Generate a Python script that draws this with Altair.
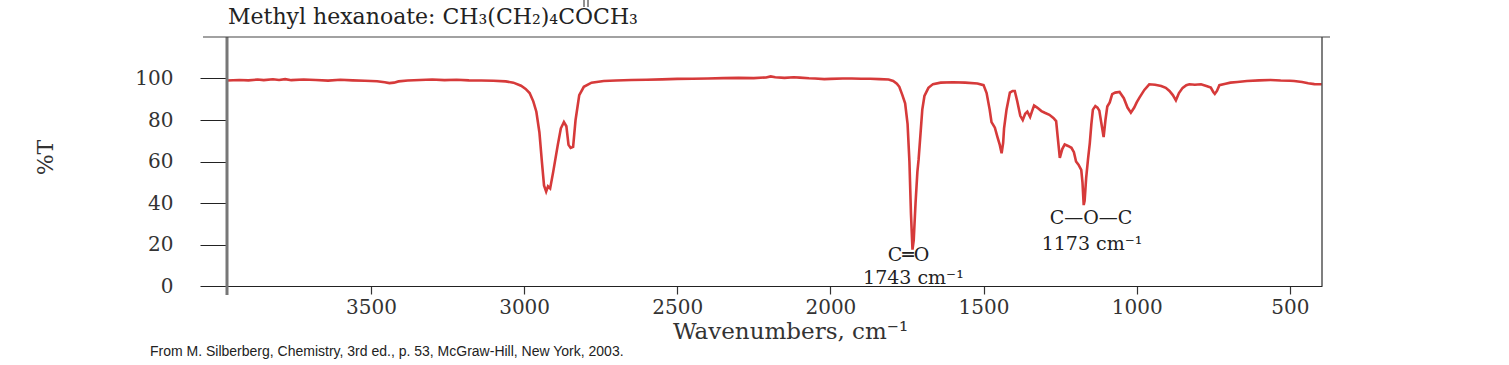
import altair as alt
import pandas as pd

# ---- spectrum (wavenumber cm-1, %T) ----
wavenumber = [3970, 3930, 3900, 3870, 3850, 3820, 3800, 3780, 3760, 3720, 3680, 3640,
              3600, 3560, 3520, 3480, 3455, 3440, 3425, 3410, 3380, 3340, 3300, 3260,
              3220, 3180, 3140, 3100, 3060, 3035, 3010, 2995, 2982, 2970, 2960, 2950,
              2942, 2935, 2928, 2922, 2915, 2905, 2890, 2880, 2870, 2862, 2855, 2848,
              2840, 2832, 2820, 2805, 2780, 2740, 2700, 2650, 2600, 2550, 2500, 2450,
              2400, 2350, 2300, 2250, 2210, 2195, 2180, 2150, 2120, 2100, 2070, 2050,
              2020, 2000, 1960, 1930, 1900, 1870, 1840, 1810, 1795, 1783, 1775, 1765,
              1756, 1748, 1742, 1737, 1732, 1728, 1722, 1716, 1712, 1705, 1700, 1693,
              1680, 1665, 1640, 1600, 1560, 1520, 1500, 1490, 1480, 1474, 1468, 1463,
              1455, 1447, 1441, 1436, 1433, 1425, 1414, 1405, 1398, 1390, 1380, 1372,
              1364, 1357, 1348, 1341, 1335, 1325, 1311, 1300, 1285, 1272, 1263, 1258,
              1251, 1243, 1235, 1224, 1213, 1205, 1198, 1190, 1181, 1177, 1173, 1170,
              1165, 1159, 1153, 1148, 1143, 1135, 1128, 1122, 1116, 1108, 1102, 1096,
              1088, 1080, 1070, 1056, 1042, 1030, 1019, 1008, 1000, 991, 975, 959,
              940, 920, 905, 893, 882, 872, 862, 850, 838, 828, 810, 790, 770, 758,
              750, 745, 738, 730, 710, 694, 671, 640, 600, 563, 530, 500, 486, 460,
              440, 420, 395]
transmittance = [99.0, 99.3, 99.1, 99.5, 99.2, 99.6, 99.3, 99.7, 99.2, 99.5, 99.3, 99.0,
                 99.4, 99.1, 98.9, 98.7, 98.2, 97.8, 98.0, 98.6, 99.0, 99.3, 99.5, 99.2,
                 99.4, 99.1, 99.0, 98.9, 98.6, 98.0, 96.5, 95.0, 93.0, 89.0, 84.0, 74.0,
                 60.0, 48.5, 45.5, 48.0, 47.0, 55.0, 68.0, 76.0, 79.0, 77.0, 68.0, 66.5,
                 67.0, 80.0, 92.0, 96.0, 98.0, 98.8, 99.0, 99.3, 99.4, 99.6, 99.8, 99.9,
                 100.0, 100.2, 100.3, 100.2, 100.5, 101.0, 100.6, 100.3, 100.6, 100.4, 100.1, 100.0,
                 99.7, 99.8, 100.0, 100.0, 99.9, 99.9, 99.7, 99.5, 98.8, 97.5, 96.0, 92.0,
                 88.0, 78.0, 60.0, 35.0, 17.5, 22.0, 40.0, 55.0, 61.0, 75.0, 85.0, 91.6,
                 95.5, 97.3, 98.0, 98.2, 98.0, 97.6, 96.8, 93.0, 85.0, 79.0, 77.5, 76.3,
                 72.0, 68.0, 64.0, 69.0, 76.0, 85.0, 93.2, 94.0, 94.0, 89.0, 82.0, 80.0,
                 83.0, 84.0, 81.5, 84.5, 87.0, 86.0, 84.3, 83.5, 82.5, 81.0, 79.5, 72.0,
                 61.7, 66.0, 68.2, 67.5, 66.6, 64.5, 60.0, 58.5, 56.0, 50.0, 39.0, 41.0,
                 52.0, 61.0, 69.0, 78.0, 85.0, 86.7, 86.0, 84.5, 79.0, 71.8, 80.0, 86.5,
                 88.5, 92.5, 93.2, 93.5, 90.5, 86.0, 83.5, 86.0, 88.5, 90.8, 94.5, 97.2,
                 97.0, 96.4, 95.5, 94.0, 92.0, 89.5, 93.0, 95.5, 96.8, 97.2, 97.0, 97.2, 96.3, 95.6,
                 93.5, 92.6, 94.0, 96.8, 97.5, 98.0, 98.3, 98.8, 99.1, 99.3, 99.0, 98.9, 98.8, 98.3,
                 97.7, 97.3, 97.2]

x_ticks = [3500, 3000, 2500, 2000, 1500, 1000, 500]
y_ticks = [0, 20, 40, 60, 80, 100]

ann_text = ["C═O", "1743 cm⁻¹", "C—O—C", "1173 cm⁻¹"]
ann_wn = [1745, 1729, 1149, 1146]
ann_t = [14.9, 4.0, 33.0, 20.2]

title_text = "Methyl hexanoate: CH₃(CH₂)₄COCH₃"
source_text = "From M. Silberberg, Chemistry, 3rd ed., p. 53, McGraw-Hill, New York, 2003."

W, H = 1095, 249
SERIF = "DejaVu Serif"

spec = pd.DataFrame({"wn": wavenumber, "T": transmittance})
ann = pd.DataFrame({"wn": ann_wn, "T": ann_t, "label": ann_text})
one = pd.DataFrame({"a": [0]})

xscale = alt.Scale(domain=[3970, 395], nice=False, zero=False)
yscale = alt.Scale(domain=[0, 120], nice=False, zero=False)

line = alt.Chart(spec).mark_line(color="#d63a3a", strokeWidth=2.6).encode(
    x=alt.X("wn:Q", scale=xscale,
            axis=alt.Axis(values=x_ticks, format="d", title="Wavenumbers, cm⁻¹",
                          grid=False, tickSize=8, tickColor="#333", tickWidth=1.2,
                          domainColor="#222", domainWidth=1,
                          labelFont=SERIF, labelFontSize=20, labelColor="#333",
                          labelPadding=3, labelFlush=False,
                          titleFont=SERIF, titleFontSize=23, titleFontWeight="normal",
                          titleColor="#333", titleX=563, titleY=52,
                          titleBaseline="alphabetic", titleAlign="center")),
    y=alt.Y("T:Q", scale=yscale,
            axis=alt.Axis(values=y_ticks, title="%T", grid=False, domain=False,
                          tickSize=27, tickColor="#222", tickWidth=1,
                          labelFont=SERIF, labelFontSize=20, labelColor="#333",
                          labelPadding=27,
                          titleFont=SERIF, titleFontSize=22, titleFontWeight="normal",
                          titleColor="#333", titleX=-182, titleY=120,
                          titleBaseline="middle", titleAlign="center")),
)

labels = alt.Chart(ann).mark_text(font=SERIF, fontSize=19, color="#222",
                                  baseline="middle", align="center").encode(
    x=alt.X("wn:Q", scale=xscale), y=alt.Y("T:Q", scale=yscale), text="label:N")

left_line = alt.Chart(one).mark_rule(color="#777", strokeWidth=3).encode(
    x=alt.value(0), y=alt.value(0), y2=alt.value(258))
right_line = alt.Chart(one).mark_rule(color="#555", strokeWidth=1.5).encode(
    x=alt.value(W), y=alt.value(0), y2=alt.value(H))
top_line = alt.Chart(one).mark_rule(color="#444", strokeWidth=1.2).encode(
    x=alt.value(-24), x2=alt.value(W + 8), y=alt.value(0))

title = alt.Chart(pd.DataFrame({"t": [title_text]})).mark_text(
    font=SERIF, fontSize=22, color="#222", align="left", baseline="alphabetic").encode(
    x=alt.value(1), y=alt.value(-13), text="t:N")
# double-bond strokes above the carbonyl C of the formula
bond_a = alt.Chart(one).mark_rule(color="#222", strokeWidth=1).encode(
    x=alt.value(357), y=alt.value(-37), y2=alt.value(-30))
bond_b = alt.Chart(one).mark_rule(color="#222", strokeWidth=1).encode(
    x=alt.value(361), y=alt.value(-37), y2=alt.value(-30))
source = alt.Chart(pd.DataFrame({"t": [source_text]})).mark_text(
    font="Liberation Sans", fontSize=14, color="#222", align="left", baseline="middle").encode(
    x=alt.value(-77), y=alt.value(315), text="t:N")

chart = alt.layer(line, labels, left_line, right_line, top_line, title, bond_a, bond_b,
                  source).properties(
    width=W, height=H,
    padding={"left": 227, "top": 37, "right": 187, "bottom": 79},
    autosize=alt.AutoSizeParams(type="none"),
).configure_view(stroke=None)

chart.save("out.html", embed_options={"renderer": "svg", "actions": False})
